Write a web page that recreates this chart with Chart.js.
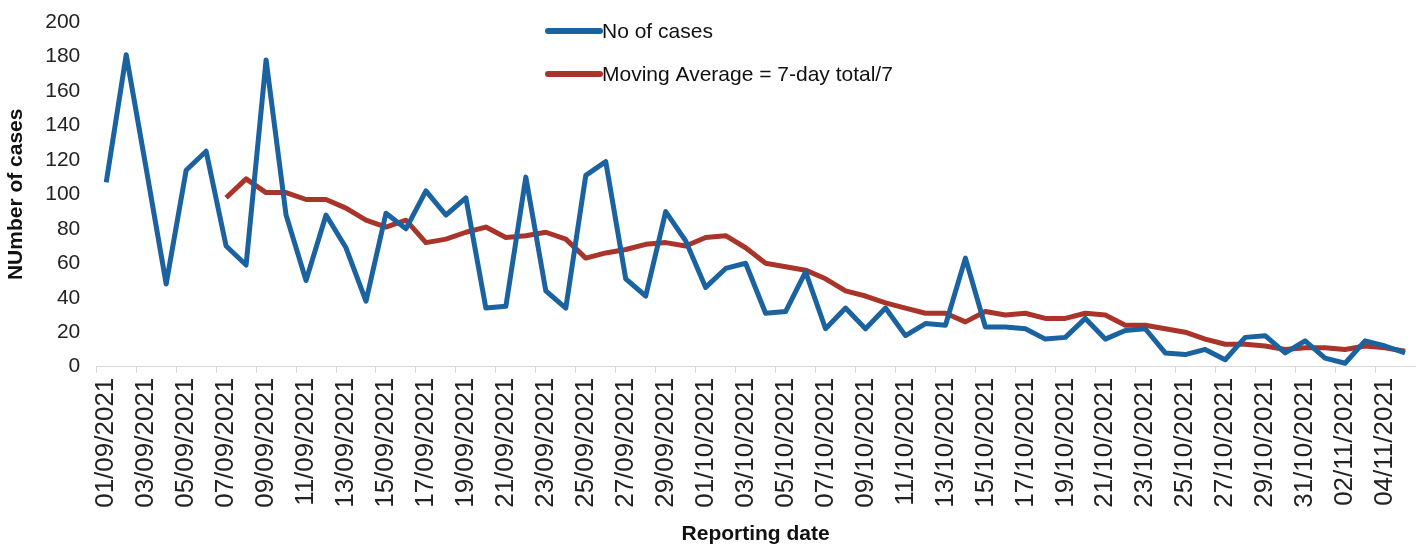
<!DOCTYPE html>
<html>
<head>
<meta charset="utf-8">
<script src="https://cdn.jsdelivr.net/npm/chart.js@4"></script>
<style>
  html, body { margin: 0; padding: 0; background: #fff; }
  #wrap { width: 1416px; height: 547px; position: relative; }
</style>
</head>
<body>
<div id="wrap"><canvas id="casesChart"></canvas></div>
<script>
// reporting dates 01/09/2021 .. 05/11/2021
const dates = [
    "01/09/2021","02/09/2021","03/09/2021","04/09/2021","05/09/2021","06/09/2021","07/09/2021","08/09/2021",
    "09/09/2021","10/09/2021","11/09/2021","12/09/2021","13/09/2021","14/09/2021","15/09/2021","16/09/2021",
    "17/09/2021","18/09/2021","19/09/2021","20/09/2021","21/09/2021","22/09/2021","23/09/2021","24/09/2021",
    "25/09/2021","26/09/2021","27/09/2021","28/09/2021","29/09/2021","30/09/2021","01/10/2021","02/10/2021",
    "03/10/2021","04/10/2021","05/10/2021","06/10/2021","07/10/2021","08/10/2021","09/10/2021","10/10/2021",
    "11/10/2021","12/10/2021","13/10/2021","14/10/2021","15/10/2021","16/10/2021","17/10/2021","18/10/2021",
    "19/10/2021","20/10/2021","21/10/2021","22/10/2021","23/10/2021","24/10/2021","25/10/2021","26/10/2021",
    "27/10/2021","28/10/2021","29/10/2021","30/10/2021","31/10/2021","01/11/2021","02/11/2021","03/11/2021",
    "04/11/2021","05/11/2021"
];

// daily cases
const cases = [
    107, 181, 115, 48, 114, 125, 70, 59, 178, 88, 50, 88, 69, 38, 89, 80,
    102, 88, 98, 34, 35, 110, 44, 34, 111, 119, 51, 41, 90, 73, 46, 57,
    60, 31, 32, 55, 22, 34, 22, 34, 18, 25, 24, 63, 23, 23, 22, 16,
    17, 28, 16, 21, 22, 8, 7, 10, 4, 17, 18, 8, 15, 5, 2, 15,
    12, 8
];

// 7-day moving average (starts on the 7th day)
const movingAvg = [
    null, null, null, null, null, null, 98, 109, 101, 101, 97, 97, 92, 85, 81, 85,
    72, 74, 78, 81, 75, 76, 78, 74, 63, 66, 68, 71, 72, 70, 75, 76,
    69, 60, 58, 56, 51, 44, 41, 37, 34, 31, 31, 26, 32, 30, 31, 28,
    28, 31, 30, 24, 24, 22, 20, 16, 13, 13, 12, 10, 11, 11, 10, 12,
    11, 9
];

const yTicks = [0, 20, 40, 60, 80, 100, 120, 140, 160, 180, 200];

const BLUE = "#1a62a0";
const RED  = "#a9342a";
const FONT = "'Liberation Sans', Arial, sans-serif";

// легенда в две строки внутри области графика
const stackedLegend = {
    id: "stackedLegend",
    afterDraw(chart) {
        const c = chart.ctx;
        const x0 = 548, rows = [31, 74];
        c.save();
        chart.data.datasets.forEach((ds, i) => {
            const y = rows[i];
            c.strokeStyle = ds.borderColor;
            c.lineWidth = 6;
            c.lineCap = "round";
            c.beginPath();
            c.moveTo(x0, y);
            c.lineTo(x0 + 52, y);
            c.stroke();
            c.fillStyle = "#111";
            c.font = "21px " + FONT;
            c.textBaseline = "middle";
            c.fillText(ds.label, x0 + 54, y + 1);
        });
        c.restore();
    }
};

new Chart(document.getElementById("casesChart").getContext("2d"), {
    type: "line",
    data: {
        labels: dates,
        datasets: [
            { label: "No of cases", data: cases, borderColor: BLUE, backgroundColor: "transparent",
              borderWidth: 5, pointRadius: 0, tension: 0, borderJoinStyle: "round" },
            { label: "Moving Average = 7-day total/7", data: movingAvg, borderColor: RED, backgroundColor: "transparent",
              borderWidth: 5, pointRadius: 0, tension: 0, borderJoinStyle: "round" }
        ]
    },
    options: {
        responsive: true,
        maintainAspectRatio: false,
        animation: false,
        layout: { padding: { top: 0, right: 1, left: 4, bottom: 0 } },
        plugins: {
            legend: { display: false },
            tooltip: { enabled: false }
        },
        scales: {
            x: {
                offset: true,
                border: { display: true, color: "#d9d9d9", width: 1 },
                grid: {
                    offset: true,
                    drawOnChartArea: false,
                    drawTicks: true,
                    tickLength: 6,
                    color: ctx => (ctx.index % 2 === 0 ? "#d9d9d9" : "transparent")
                },
                ticks: {
                    autoSkip: false,
                    maxRotation: 90,
                    minRotation: 90,
                    padding: 5,
                    color: "#222",
                    font: { family: FONT, size: 26 },
                    callback: (v, i) => (i % 2 === 0 ? dates[i] : "")
                },
                afterFit: axis => { axis.paddingRight = 0; axis.paddingLeft = 0; },
                title: {
                    display: true,
                    text: "Reporting date",
                    color: "#111",
                    font: { family: FONT, size: 21, weight: "bold" },
                    padding: { top: 9, bottom: 0 }
                }
            },
            y: {
                min: 0,
                max: 200,
                border: { display: false },
                grid: { display: false, drawTicks: false },
                afterBuildTicks: axis => { axis.ticks = yTicks.map(v => ({ value: v })); },
                afterFit: axis => { axis.paddingTop = 22; },
                ticks: {
                    padding: 16,
                    color: "#222",
                    font: { family: FONT, size: 21 }
                },
                title: {
                    display: true,
                    text: "NUmber of cases",
                    color: "#111",
                    font: { family: FONT, size: 21, weight: "bold" },
                    padding: { top: 0, bottom: 0 }
                }
            }
        }
    },
    plugins: [stackedLegend]
});
</script>
</body>
</html>
